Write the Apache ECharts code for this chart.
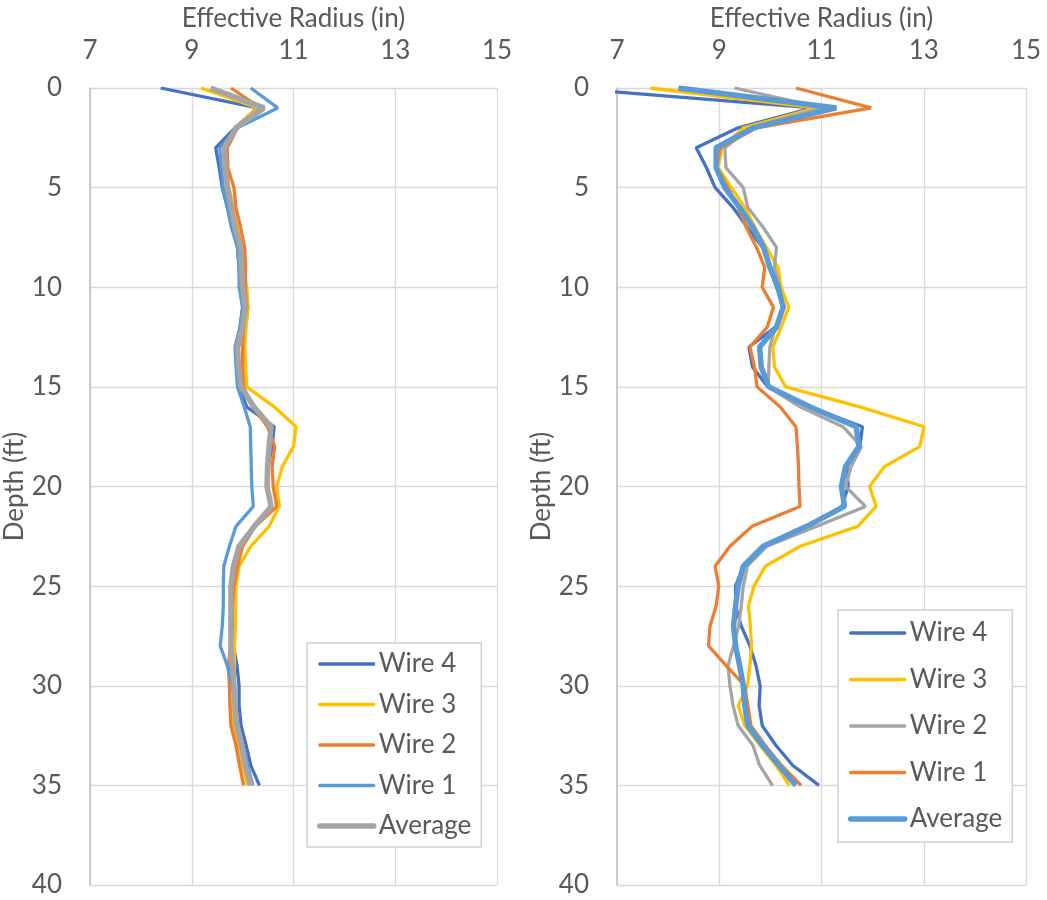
<!DOCTYPE html>
<html>
<head>
<meta charset="utf-8">
<script src="https://cdn.jsdelivr.net/npm/echarts@6/dist/echarts.min.js"></script>
<style>
html,body{margin:0;padding:0;background:#fff;}
#chart{width:1047px;height:900px;}
</style>
</head>
<body>
<div id="chart"></div>
<script>
// Depth (ft) of each reading
const depths = [0,1,2,3,4,5,6,7,8,9,10,11,12,13,14,15,16,17,18,19,20,21,22,23,24,25,26,27,28,29,30,31,32,33,34,35];

// Left panel: effective radius (in)
const leftWire4 = [8.39,10.29,9.85,9.47,9.54,9.6,9.7,9.8,9.9,9.93,9.95,10.0,9.95,9.88,9.9,9.93,10.08,10.62,10.58,10.5,10.48,10.55,10.22,9.93,9.83,9.8,9.8,9.8,9.82,9.89,9.93,9.93,9.97,10.07,10.16,10.33];
const leftWire3 = [9.18,10.3,9.85,9.65,9.68,9.73,9.82,9.9,9.97,10.02,10.08,10.11,10.07,10.04,10.06,10.08,10.62,11.05,11.0,10.78,10.67,10.72,10.52,10.16,9.93,9.87,9.86,9.86,9.84,9.84,9.82,9.8,9.82,9.9,10.0,10.1];
const leftWire2 = [9.77,10.35,9.9,9.7,9.71,9.83,9.87,9.96,10.04,10.06,10.05,10.08,10.02,10.0,10.0,10.02,10.2,10.49,10.63,10.58,10.6,10.67,10.25,10.0,9.9,9.83,9.8,9.78,9.76,9.72,9.74,9.75,9.77,9.87,9.94,10.02];
const leftWire1 = [10.16,10.69,9.9,9.55,9.58,9.62,9.7,9.78,9.9,9.93,9.93,10.0,9.95,9.85,9.87,9.9,10.03,10.15,10.16,10.17,10.18,10.21,9.87,9.74,9.63,9.62,9.62,9.6,9.56,9.7,9.8,9.85,9.9,10.0,10.1,10.2];
const leftAverage = [9.37,10.42,9.87,9.64,9.66,9.7,9.78,9.85,9.96,9.98,10.0,10.05,10.0,9.9,9.92,9.97,10.22,10.56,10.52,10.49,10.48,10.56,10.23,9.93,9.82,9.77,9.77,9.77,9.77,9.8,9.83,9.85,9.88,9.98,10.05,10.16];

// Right panel: effective radius (in)
const rightWire4 = [6.0,10.83,9.37,8.55,8.75,8.92,9.27,9.55,9.85,9.99,10.12,10.27,10.1,9.58,9.65,9.95,10.77,11.8,11.75,11.5,11.52,11.4,10.71,9.86,9.47,9.32,9.32,9.43,9.6,9.72,9.8,9.78,9.84,10.11,10.44,10.95];
const rightWire3 = [7.65,10.9,9.47,9.05,8.98,9.24,9.5,9.7,9.92,10.15,10.21,10.36,10.21,10.05,10.08,10.3,11.75,13.01,12.92,12.23,11.94,12.07,11.71,10.58,9.9,9.68,9.57,9.61,9.63,9.6,9.55,9.37,9.5,9.8,10.11,10.37];
const rightWire2 = [9.3,11.03,9.6,9.11,9.13,9.47,9.56,9.86,10.12,10.08,10.18,10.25,10.1,9.99,9.97,9.96,10.58,11.42,11.78,11.58,11.47,11.86,10.9,9.93,9.55,9.47,9.43,9.38,9.28,9.17,9.21,9.27,9.37,9.66,9.79,10.04];
const rightWire1 = [10.5,11.97,9.73,9.02,8.95,9.17,9.37,9.53,9.73,9.89,9.84,10.06,9.94,9.6,9.69,9.74,10.19,10.5,10.53,10.55,10.56,10.58,9.64,9.21,8.92,8.99,8.94,8.82,8.79,9.14,9.5,9.56,9.62,9.9,10.22,10.6];
const rightAverage = [8.2,11.29,9.66,8.94,8.94,9.11,9.4,9.66,9.87,9.99,10.15,10.25,10.12,9.79,9.82,9.97,10.77,11.68,11.73,11.47,11.39,11.45,10.71,9.86,9.47,9.37,9.32,9.28,9.32,9.4,9.47,9.5,9.56,9.85,10.17,10.5];

const seriesNames = ['Wire 4','Wire 3','Wire 2','Wire 1','Average'];
const xTitle = 'Effective Radius (in)';
const yTitle = 'Depth (ft)';

const BLUE = '#4472C4', YELLOW = '#FFC000', ORANGE = '#ED7D31', LBLUE = '#5B9BD5', GREY = '#A5A5A5';
const TEXT = '#595959';
const FONT = 'Lato';
const FS = 26;

const leftColors = [BLUE, YELLOW, ORANGE, LBLUE, GREY];
const rightColors = [BLUE, YELLOW, GREY, ORANGE, LBLUE];
const leftSets = [leftWire4, leftWire3, leftWire2, leftWire1, leftAverage];
const rightSets = [rightWire4, rightWire3, rightWire2, rightWire1, rightAverage];

function pairs(vals){ return vals.map((v,i)=>[v, depths[i]]); }

function xAxisCfg(gi){
  return {
    gridIndex: gi, type:'value', position:'top', min:7, max:15, interval:2,
    name: xTitle, nameLocation:'middle', nameGap:56,
    nameTextStyle:{color:TEXT, fontFamily:FONT, fontSize:FS},
    axisLine:{show:false}, axisTick:{show:false},
    axisLabel:{color:TEXT, fontFamily:FONT, fontSize:FS, margin:24},
    splitLine:{show:true, lineStyle:{color:'#D9D9D9', width:1.3}}
  };
}
function yAxisCfg(gi){
  return {
    gridIndex: gi, type:'value', inverse:true, min:0, max:40, interval:5,
    name: yTitle, nameLocation:'middle', nameGap:52, nameRotate:90,
    nameTextStyle:{color:TEXT, fontFamily:FONT, fontSize:FS},
    axisLine:{show:true, onZero:false, lineStyle:{color:'#BFBFBF', width:1.5}},
    axisTick:{show:false},
    axisLabel:{color:TEXT, fontFamily:FONT, fontSize:FS, margin:28},
    splitLine:{show:true, lineStyle:{color:'#D9D9D9', width:1.3}}
  };
}

const series = [];
seriesNames.forEach((n,i)=>{
  series.push({
    name:n, type:'line', xAxisIndex:0, yAxisIndex:0, data:pairs(leftSets[i]),
    symbol:'none', clip:true, color:leftColors[i],
    lineStyle:{color:leftColors[i], width: i===4 ? 5.5 : 3.3}
  });
});
seriesNames.forEach((n,i)=>{
  series.push({
    name:n, type:'line', xAxisIndex:1, yAxisIndex:1, data:pairs(rightSets[i]),
    symbol:'none', clip:true, color:rightColors[i],
    lineStyle:{color:rightColors[i], width: i===4 ? 5.5 : 3.3}
  });
});

function legendCfg(left, top, colors, gap, pad){
  return {
    show:true, orient:'vertical', left:left, top:top,
    backgroundColor:'#fff', borderColor:'#D0D0D0', borderWidth:1.5,
    padding:pad, itemGap:gap, itemWidth:54, itemHeight:26,
    textStyle:{color:TEXT, fontFamily:FONT, fontSize:FS},
    data: seriesNames.map((n,i)=>({
      name:n,
      itemStyle:{color:colors[i], opacity:0, borderWidth:0},
      lineStyle:{color:colors[i], width: i===4 ? 5.5 : 3.3, cap:'round'}
    }))
  };
}

const chart = echarts.init(document.getElementById('chart'), null, {renderer:'canvas'});
chart.setOption({
  animation:false,
  backgroundColor:'#fff',
  grid:[
    {left:90, top:88, width:407, height:797, outerBoundsMode:'none', containLabel:false},
    {left:617, top:88, width:409, height:797, outerBoundsMode:'none', containLabel:false}
  ],
  xAxis:[xAxisCfg(0), xAxisCfg(1)],
  yAxis:[yAxisCfg(0), yAxisCfg(1)],
  legend:[
    legendCfg(307, 643, leftColors, 14.5, [8,10,8,10]),
    legendCfg(838, 610, rightColors, 20.5, [10,10,10,10])
  ],
  series: series
});
</script>
</body>
</html>
